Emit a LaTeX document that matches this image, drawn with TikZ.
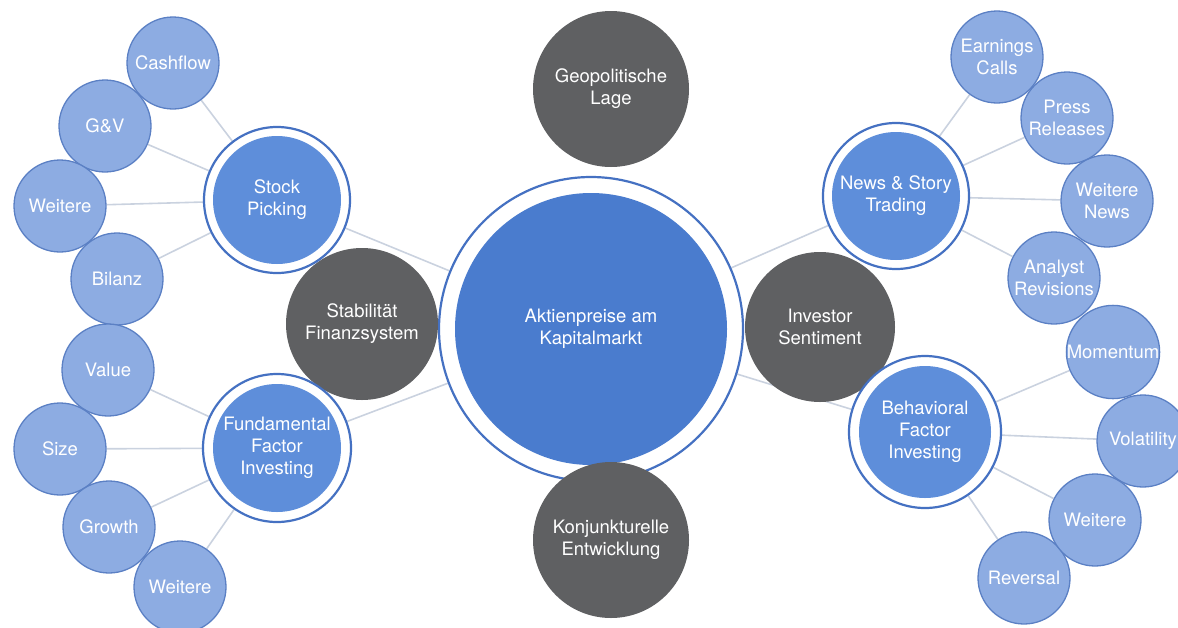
\documentclass[tikz,border=0pt]{standalone}
\usepackage{fontspec}
\setmainfont{TeX Gyre Heros}
\usetikzlibrary{backgrounds}
\definecolor{leaf}{HTML}{8DACE2}
\definecolor{leafb}{HTML}{5B80C4}
\definecolor{mid}{HTML}{5E8EDA}
\definecolor{core}{HTML}{4A7CCE}
\definecolor{ringc}{HTML}{4571C2}
\definecolor{grayc}{HTML}{5F6062}
\definecolor{conn}{HTML}{CAD2DF}
\begin{document}
\begin{tikzpicture}[x=1pt,y=-1pt,
  every node/.style={font=\fontsize{18.5}{22}\selectfont, text=white, align=center, inner sep=0pt},
  leafnode/.style={circle, fill=leaf, draw=leafb, line width=1.3pt, minimum size=92pt},
  ringnode/.style={circle, fill=white, draw=ringc, line width=2.2pt, minimum size=#1},
  midnode/.style={circle, fill=mid, minimum size=128pt},
  corenode/.style={circle, fill=core, minimum size=272pt},
  graynode/.style={circle, fill=grayc, minimum size=#1},
  link/.style={draw=conn, line width=1.6pt}]
\useasboundingbox (0,0) rectangle (1178,627);
\clip (0,0) rectangle (1178,627);

% center
\node[ringnode=304pt] (root) at (591,329) {};
\node[corenode] (root-in) at (root) {Aktienpreise am\\Kapitalmarkt};

% gray influences
\node[graynode=156pt] (geo) at (611,89) {Geopolitische\\Lage};
\node[graynode=156pt] (konj) at (611,540) {Konjunkturelle\\Entwicklung};
\node[graynode=152pt] (stab) at (362,324) {Stabilit\"at\\Finanzsystem};
\node[graynode=150pt] (inv) at (820,327) {Investor\\Sentiment};

% mid nodes
\node[ringnode=146pt] (sp) at (277,200) {};
\node[midnode] (sp-in) at (sp) {Stock\\Picking};
\node[ringnode=148pt] (ffi) at (277,448) {};
\node[midnode] (ffi-in) at (ffi) {Fundamental\\Factor\\Investing};
\node[ringnode=146pt] (news) at (896,196) {};
\node[midnode] (news-in) at (news) {News \& Story\\Trading};
\node[ringnode=152pt] (bfi) at (925,432) {};
\node[midnode,minimum size=132pt] (bfi-in) at (bfi) {Behavioral\\Factor\\Investing};

% left leaves
\node[leafnode] (gv) at (105,126) {G\&V};
\node[leafnode] (cash) at (173,63) {Cashflow};
\node[leafnode] (bil) at (117,279) {Bilanz};
\node[leafnode] (wl1) at (60,206) {Weitere};
\node[leafnode] (val) at (108,370) {Value};
\node[leafnode] (size) at (60,449) {Size};
\node[leafnode] (grow) at (109,527) {Growth};
\node[leafnode] (wl2) at (180,587) {Weitere};

% right leaves
\node[leafnode] (press) at (1067,118) {Press\\Releases};
\node[leafnode] (earn) at (997,57) {Earnings\\Calls};
\node[leafnode] (wnews) at (1107,201) {Weitere\\News};
\node[leafnode] (anal) at (1054,278) {Analyst\\Revisions};
\node[leafnode] (mom) at (1113,352) {Momentum};
\node[leafnode] (vol) at (1143,441) {Volatility};
\node[leafnode] (rev) at (1024,578) {Reversal};
\node[leafnode] (wr) at (1095,520) {Weitere};

\begin{pgfonlayer}{background}
  \draw[link] (sp) -- (root);
  \draw[link] (ffi) -- (root);
  \draw[link] (news) -- (root);
  \draw[link] (bfi) -- (root);
  \foreach \l in {cash,gv,wl1,bil} \draw[link] (\l) -- (sp);
  \foreach \l in {val,size,grow,wl2} \draw[link] (\l) -- (ffi);
  \foreach \l in {earn,press,wnews,anal} \draw[link] (\l) -- (news);
  \foreach \l in {mom,vol,wr,rev} \draw[link] (\l) -- (bfi);
\end{pgfonlayer}
\end{tikzpicture}
\end{document}
